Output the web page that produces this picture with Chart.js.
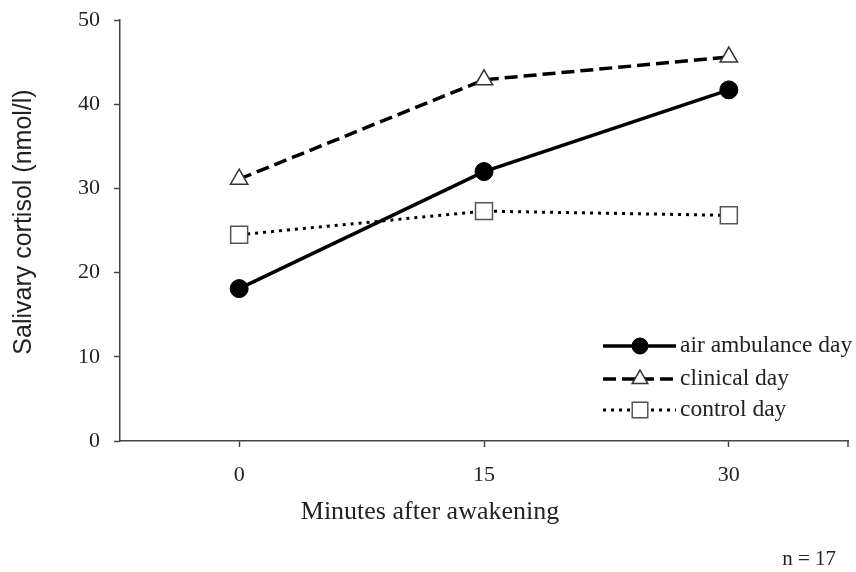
<!DOCTYPE html>
<html>
<head>
<meta charset="utf-8">
<script src="https://cdn.jsdelivr.net/npm/chart.js@4.4.1/dist/chart.umd.min.js"></script>
<style>
  html, body { margin: 0; padding: 0; background: #fff; }
  #chart-box { width: 856px; height: 572px; }
</style>
</head>
<body>
<div id="chart-box"><canvas id="cortisol-chart"></canvas></div>
<script>
// minutes after awakening
const minutes = [0, 15, 30];
// salivary cortisol (nmol/l)
const airAmbulanceDay = [18.1, 32.0, 41.7];
const clinicalDay = [31.1, 42.9, 45.6];
const controlDay = [24.5, 27.3, 26.8];
const seriesNames = ['air ambulance day', 'clinical day', 'control day'];
const yMin = 0, yMax = 50, yStep = 10;
const xMin = -7.3, xMax = 37.3;
const xTitle = 'Minutes after awakening';
const yTitle = 'Salivary cortisol (nmol/l)';
const sampleNote = 'n = 17';

const serif = "'Liberation Serif', 'DejaVu Serif', serif";
const sans = "'Liberation Sans', Arial, sans-serif";
const ink = '#222';
const axisGray = '#444';

const toPoints = (values) => values.map((v, i) => ({ x: minutes[i], y: v }));

// legend inside the plot (line + marker), axis titles and the n note
const extras = {
  id: 'extras',
  afterDraw(chart) {
    const ctx = chart.ctx;
    const area = chart.chartArea;
    const rows = [346, 379, 410];
    ctx.save();
    chart.data.datasets.forEach((ds, i) => {
      const y = rows[i];
      ctx.beginPath();
      ctx.setLineDash(ds.borderDash || []);
      ctx.lineWidth = ds.borderWidth;
      ctx.strokeStyle = ds.borderColor;
      ctx.moveTo(603, y);
      ctx.lineTo(676, y);
      ctx.stroke();
      ctx.setLineDash([]);
      ctx.fillStyle = ds.pointBackgroundColor;
      ctx.strokeStyle = ds.pointBorderColor;
      ctx.lineWidth = ds.pointBorderWidth;
      Chart.helpers.drawPoint(ctx, { pointStyle: ds.pointStyle, radius: ds.pointRadius - 1, rotation: 0, borderWidth: ds.pointBorderWidth }, 640, y);
      ctx.fillStyle = ink;
      ctx.font = '23.5px ' + serif;
      ctx.textBaseline = 'middle';
      ctx.textAlign = 'left';
      ctx.fillText(ds.label, 680, y);
    });

    // end tick on the x axis
    ctx.beginPath();
    ctx.strokeStyle = axisGray;
    ctx.lineWidth = 1.5;
    ctx.moveTo(area.right, area.bottom);
    ctx.lineTo(area.right, area.bottom + 6);
    ctx.stroke();

    // axis titles
    ctx.fillStyle = ink;
    ctx.textAlign = 'center';
    ctx.textBaseline = 'middle';
    ctx.font = '26px ' + serif;
    ctx.fillText(xTitle, 430, 512);

    ctx.save();
    ctx.translate(24, 222);
    ctx.rotate(-Math.PI / 2);
    ctx.font = '25px ' + sans;
    ctx.fillText(yTitle, 0, 0);
    ctx.restore();

    // sample size note
    ctx.font = '21px ' + serif;
    ctx.textAlign = 'right';
    ctx.fillText(sampleNote, 836, 559);
    ctx.restore();
  }
};

const ctx = document.getElementById('cortisol-chart').getContext('2d');
new Chart(ctx, {
  type: 'line',
  data: {
    datasets: [
      {
        label: seriesNames[0],
        data: toPoints(airAmbulanceDay),
        borderColor: '#000',
        borderWidth: 3.5,
        pointStyle: 'circle',
        pointRadius: 9,
        pointBackgroundColor: '#000',
        pointBorderColor: '#000',
        pointBorderWidth: 1
      },
      {
        label: seriesNames[1],
        data: toPoints(clinicalDay),
        borderColor: '#000',
        borderWidth: 3.5,
        borderDash: [13, 6],
        pointStyle: 'triangle',
        pointRadius: 10,
        pointBackgroundColor: '#fff',
        pointBorderColor: '#333',
        pointBorderWidth: 1.5
      },
      {
        label: seriesNames[2],
        data: toPoints(controlDay),
        borderColor: '#000',
        borderWidth: 3,
        borderDash: [3, 5],
        pointStyle: 'rect',
        pointRadius: 12,
        pointBackgroundColor: '#fff',
        pointBorderColor: '#555',
        pointBorderWidth: 1.5
      }
    ]
  },
  options: {
    responsive: true,
    maintainAspectRatio: false,
    animation: false,
    layout: { autoPadding: false, padding: { top: 20, right: 8, bottom: 0, left: 0 } },
    plugins: {
      legend: { display: false },
      tooltip: { enabled: false }
    },
    scales: {
      x: {
        type: 'linear',
        min: xMin,
        max: xMax,
        afterBuildTicks: (scale) => { scale.ticks = minutes.map(v => ({ value: v })); },
        afterFit: (scale) => {
          scale.height = 131;
          scale.paddingLeft = 0;
          scale.paddingRight = 0;
        },
        border: { color: axisGray, width: 1.5 },
        grid: { drawOnChartArea: false, drawTicks: true, tickLength: 6, tickColor: axisGray, tickWidth: 1.5 },
        ticks: { color: ink, font: { family: serif, size: 22 }, padding: 15, maxRotation: 0, autoSkip: false }
      },
      y: {
        min: yMin,
        max: yMax,
        afterFit: (scale) => {
          scale.width = 120;
          scale.paddingTop = 0;
          scale.paddingBottom = 0;
        },
        border: { color: axisGray, width: 1.5 },
        grid: { drawOnChartArea: false, drawTicks: true, tickLength: 6, tickColor: axisGray, tickWidth: 1.5 },
        ticks: { stepSize: yStep, color: ink, font: { family: serif, size: 22 }, padding: 14 }
      }
    }
  },
  plugins: [extras]
});
</script>
</body>
</html>
